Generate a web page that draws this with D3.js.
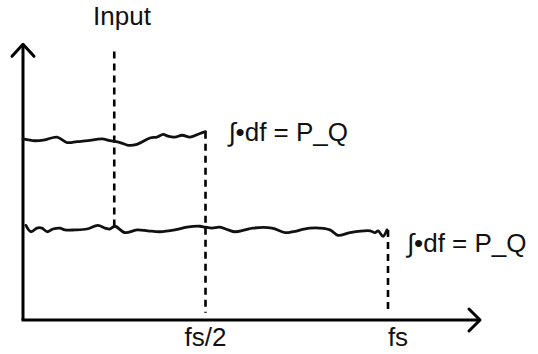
<!DOCTYPE html>
<html>
<head>
<meta charset="utf-8">
<script src="https://cdn.jsdelivr.net/npm/d3@7"></script>
<style>
  body { margin: 0; background: #fff; }
  text { font-family: "Liberation Sans", Arial, sans-serif; fill: #111; }
</style>
</head>
<body>
<svg class="sketch" width="538" height="354"></svg>
<script>
// frequency in % of fs, level relative to the full-band noise floor
const topFreq  = [0, 3.3, 6.0, 9.3, 12.1, 14.8, 17.8, 21.6, 23.8, 26.6, 28.8, 31.2, 34.8, 36.7, 38.4, 39.7, 41.6, 43.6, 45.8, 48.5, 50];
const topLevel = [1.99, 1.97, 1.98, 2.01, 1.95, 1.96, 1.97, 1.99, 1.97, 1.95, 1.92, 1.93, 2.0, 2.01, 2.04, 2.02, 2.01, 2.03, 2.01, 2.05, 2.07];

const lowFreq  = [0.8, 2.2, 3.8, 5.2, 6.6, 8.2, 10.1, 11.5, 14.2, 17.5, 20.5, 22.5, 23.8, 25.2, 27.9, 31.2, 34.2, 37.5, 41.6, 44.9, 48.5, 49.9, 51.8, 53.9, 56.2, 58.1, 60.8, 63.0, 68.2, 71.8, 74.0, 78.6, 84.1, 86.3, 89.6, 95.1, 96.4, 97.3, 98.6, 99.7];
const lowLevel = [1.04, 0.97, 1.01, 1.01, 0.97, 1.0, 1.01, 0.99, 0.99, 1.0, 1.04, 1.01, 1.0, 1.03, 0.96, 0.99, 0.98, 0.97, 0.99, 1.02, 1.03, 1.02, 1.01, 1.02, 0.99, 0.97, 0.99, 1.01, 1.01, 0.96, 0.97, 1.01, 0.99, 0.93, 0.96, 0.98, 0.96, 0.98, 0.92, 0.99];

// dashed markers: frequency, top level, bottom level
const markers = [
  { f: 25,  top: 2.95, bottom: 1.0 },
  { f: 50,  top: 2.07, bottom: 0.08 },
  { f: 100, top: 0.99, bottom: 0.08 }
];

const tickFreq   = [50, 100];
const tickLabels = ["fs/2", "fs"];
const inputLabel = "Input";
const powerLabel = "∫•df = P_Q";
const powerAt    = [{ f: 56.3, level: 1.97 }, { f: 105.2, level: 0.75 }];

const svg = d3.select(".sketch");

const x = d3.scaleLinear().domain([0, 100]).range([23, 388]);
const y = d3.scaleLinear().domain([0, 2]).range([320, 138]);

const xEnd = 125.2, yEnd = 3.03;

// axes with arrow heads
svg.append("line")
    .attr("x1", x(0)).attr("y1", y(0))
    .attr("x2", x(0)).attr("y2", y(yEnd))
    .attr("stroke", "#000").attr("stroke-width", 3);
svg.append("line")
    .attr("x1", x(0) - 1.5).attr("y1", y(0))
    .attr("x2", x(xEnd)).attr("y2", y(0))
    .attr("stroke", "#000").attr("stroke-width", 3);

svg.append("path")
    .attr("d", `M${x(0) - 11},${y(yEnd) + 12} L${x(0)},${y(yEnd)} L${x(0) + 11},${y(yEnd) + 12}`)
    .attr("fill", "none").attr("stroke", "#000").attr("stroke-width", 3)
    .attr("stroke-linecap", "round").attr("stroke-linejoin", "round");
svg.append("path")
    .attr("d", `M${x(xEnd) - 11},${y(0) - 11} L${x(xEnd)},${y(0)} L${x(xEnd) - 11},${y(0) + 11}`)
    .attr("fill", "none").attr("stroke", "#000").attr("stroke-width", 3)
    .attr("stroke-linecap", "round").attr("stroke-linejoin", "round");

// dashed marker lines
svg.selectAll(".marker")
    .data(markers)
    .enter().append("line")
    .attr("class", "marker")
    .attr("x1", d => x(d.f)).attr("x2", d => x(d.f))
    .attr("y1", d => y(d.top)).attr("y2", d => y(d.bottom))
    .attr("stroke", "#000").attr("stroke-width", 2.6)
    .attr("stroke-dasharray", "7,5");

// noise floors
const line = d3.line()
    .x(d => x(d[0]))
    .y(d => y(d[1]))
    .curve(d3.curveCatmullRom);

[[topFreq, topLevel], [lowFreq, lowLevel]].forEach(([fs, ls]) => {
    svg.append("path")
        .attr("d", line(fs.map((f, i) => [f, ls[i]])))
        .attr("fill", "none").attr("stroke", "#111").attr("stroke-width", 2.8)
        .attr("stroke-linejoin", "round").attr("stroke-linecap", "round");
});

// labels
svg.append("text")
    .attr("x", 122).attr("y", 25)
    .attr("text-anchor", "middle")
    .attr("font-size", 26)
    .text(inputLabel);

svg.selectAll(".tick-label")
    .data(tickFreq)
    .enter().append("text")
    .attr("class", "tick-label")
    .attr("x", (d, i) => x(d) + (i === 1 ? 10 : 0))
    .attr("y", 346)
    .attr("text-anchor", "middle")
    .attr("font-size", 26)
    .text((d, i) => tickLabels[i]);

svg.selectAll(".power-label")
    .data(powerAt)
    .enter().append("text")
    .attr("class", "power-label")
    .attr("x", d => x(d.f)).attr("y", d => y(d.level))
    .attr("font-size", 26)
    .text(powerLabel);
</script>
</body>
</html>
